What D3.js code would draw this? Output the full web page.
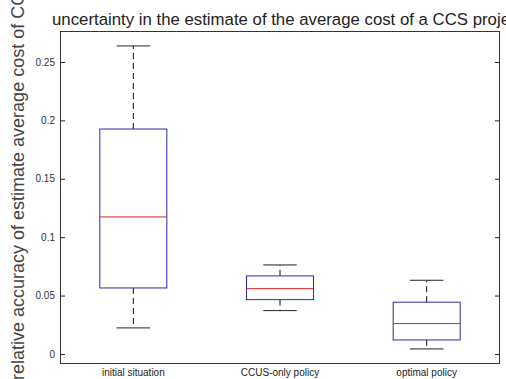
<!DOCTYPE html>
<html>
<head>
<meta charset="utf-8">
<script src="https://cdn.jsdelivr.net/npm/d3@7"></script>
<style>
    body { margin: 0; background: #fff; }
    svg { display: block; font-family: "Liberation Sans", Arial, sans-serif; }
</style>
</head>
<body>
<svg width="506" height="379"></svg>
<script>
// boxplot stats
const categories = ["initial situation", "CCUS-only policy", "optimal policy"]
const whisker_low = [0.0223, 0.0371, 0.0043]
const q1 = [0.0565, 0.0465, 0.0120]
const median = [0.1173, 0.0559, 0.0260]
const q3 = [0.1926, 0.0668, 0.0443]
const whisker_high = [0.2637, 0.0762, 0.0631]
const y_ticks = [0, 0.05, 0.1, 0.15, 0.2, 0.25]
const y_tick_labels = ["0", "0.05", "0.1", "0.15", "0.2", "0.25"]

const title = "uncertainty in the estimate of the average cost of a CCS project"
const y_label = "relative accuracy of estimate average cost of CCS project"

const margin = {left: 60, right: 6, top: 31, bottom: 15}
const width = 506, height = 379
const svg = d3.select("svg")

const x = d3.scaleLinear()
    .domain([0.5, categories.length + 0.5])
    .range([margin.left, width - margin.right])
const y = d3.scaleLinear()
    .domain([-0.0086, 0.2765])
    .range([height - margin.bottom, margin.top])

const box_half = (x(1) - x(0.5)) * 0.457
const cap_half = box_half / 2

const stats = categories.map((c, i) => ({
    name: c, pos: i + 1,
    lo: whisker_low[i], q1: q1[i], med: median[i], q3: q3[i], hi: whisker_high[i]
}))

// axes: left + right with inward ticks
svg.append("g")
    .attr("transform", `translate(${margin.left},0)`)
    .call(d3.axisLeft(y).tickValues(y_ticks).tickSize(-5).tickPadding(5)
        .tickFormat((d, i) => y_tick_labels[i]))
    .call(g => g.select(".domain").remove())
    .call(g => g.selectAll("line").attr("stroke", "#222"))
    .call(g => g.selectAll("text").attr("fill", "#333")
        .attr("font-family", "'Liberation Sans', Arial, sans-serif").attr("font-size", 10))

svg.append("g")
    .attr("transform", `translate(${width - margin.right},0)`)
    .call(d3.axisRight(y).tickValues(y_ticks).tickSize(-5).tickFormat(""))
    .call(g => g.select(".domain").remove())
    .call(g => g.selectAll("line").attr("stroke", "#222"))

// x labels under each box
svg.append("g")
    .selectAll("text")
    .data(stats)
    .join("text")
    .attr("x", d => x(d.pos))
    .attr("y", height - 3)
    .attr("text-anchor", "middle")
    .attr("font-size", 10)
    .attr("fill", "#222")
    .text(d => d.name)

const boxes = svg.append("g")
    .selectAll("g")
    .data(stats)
    .join("g")

// whiskers
boxes.append("line")
    .attr("x1", d => x(d.pos)).attr("x2", d => x(d.pos))
    .attr("y1", d => y(d.q3)).attr("y2", d => y(d.hi))
    .attr("stroke", "#111").attr("stroke-dasharray", "6,4")
boxes.append("line")
    .attr("x1", d => x(d.pos)).attr("x2", d => x(d.pos))
    .attr("y1", d => y(d.q1)).attr("y2", d => y(d.lo))
    .attr("stroke", "#111").attr("stroke-dasharray", "6,4")

// caps
for (const key of ["hi", "lo"]) {
    boxes.append("line")
        .attr("x1", d => x(d.pos) - cap_half).attr("x2", d => x(d.pos) + cap_half)
        .attr("y1", d => y(d[key])).attr("y2", d => y(d[key]))
        .attr("stroke", "#222")
}

boxes.append("rect")
    .attr("x", d => x(d.pos) - box_half)
    .attr("width", box_half * 2)
    .attr("y", d => y(d.q3))
    .attr("height", d => y(d.q1) - y(d.q3))
    .attr("fill", "none")
    .attr("stroke", "#2a2aa0")

boxes.append("line")
    .attr("x1", d => x(d.pos) - box_half).attr("x2", d => x(d.pos) + box_half)
    .attr("y1", d => y(d.med)).attr("y2", d => y(d.med))
    .attr("stroke", "#d42020")

// frame
svg.append("rect")
    .attr("x", margin.left + 0.5).attr("y", margin.top + 0.5)
    .attr("width", width - margin.left - margin.right - 1)
    .attr("height", height - margin.top - margin.bottom - 1)
    .attr("fill", "none").attr("stroke", "#333")

svg.append("text")
    .attr("x", 52).attr("y", 25)
    .attr("font-size", 16.8)
    .attr("fill", "#222")
    .text(title)

svg.append("text")
    .attr("transform", "translate(24,380) rotate(-90)")
    .attr("font-size", 18)
    .attr("fill", "#444")
    .text(y_label)
</script>
</body>
</html>
